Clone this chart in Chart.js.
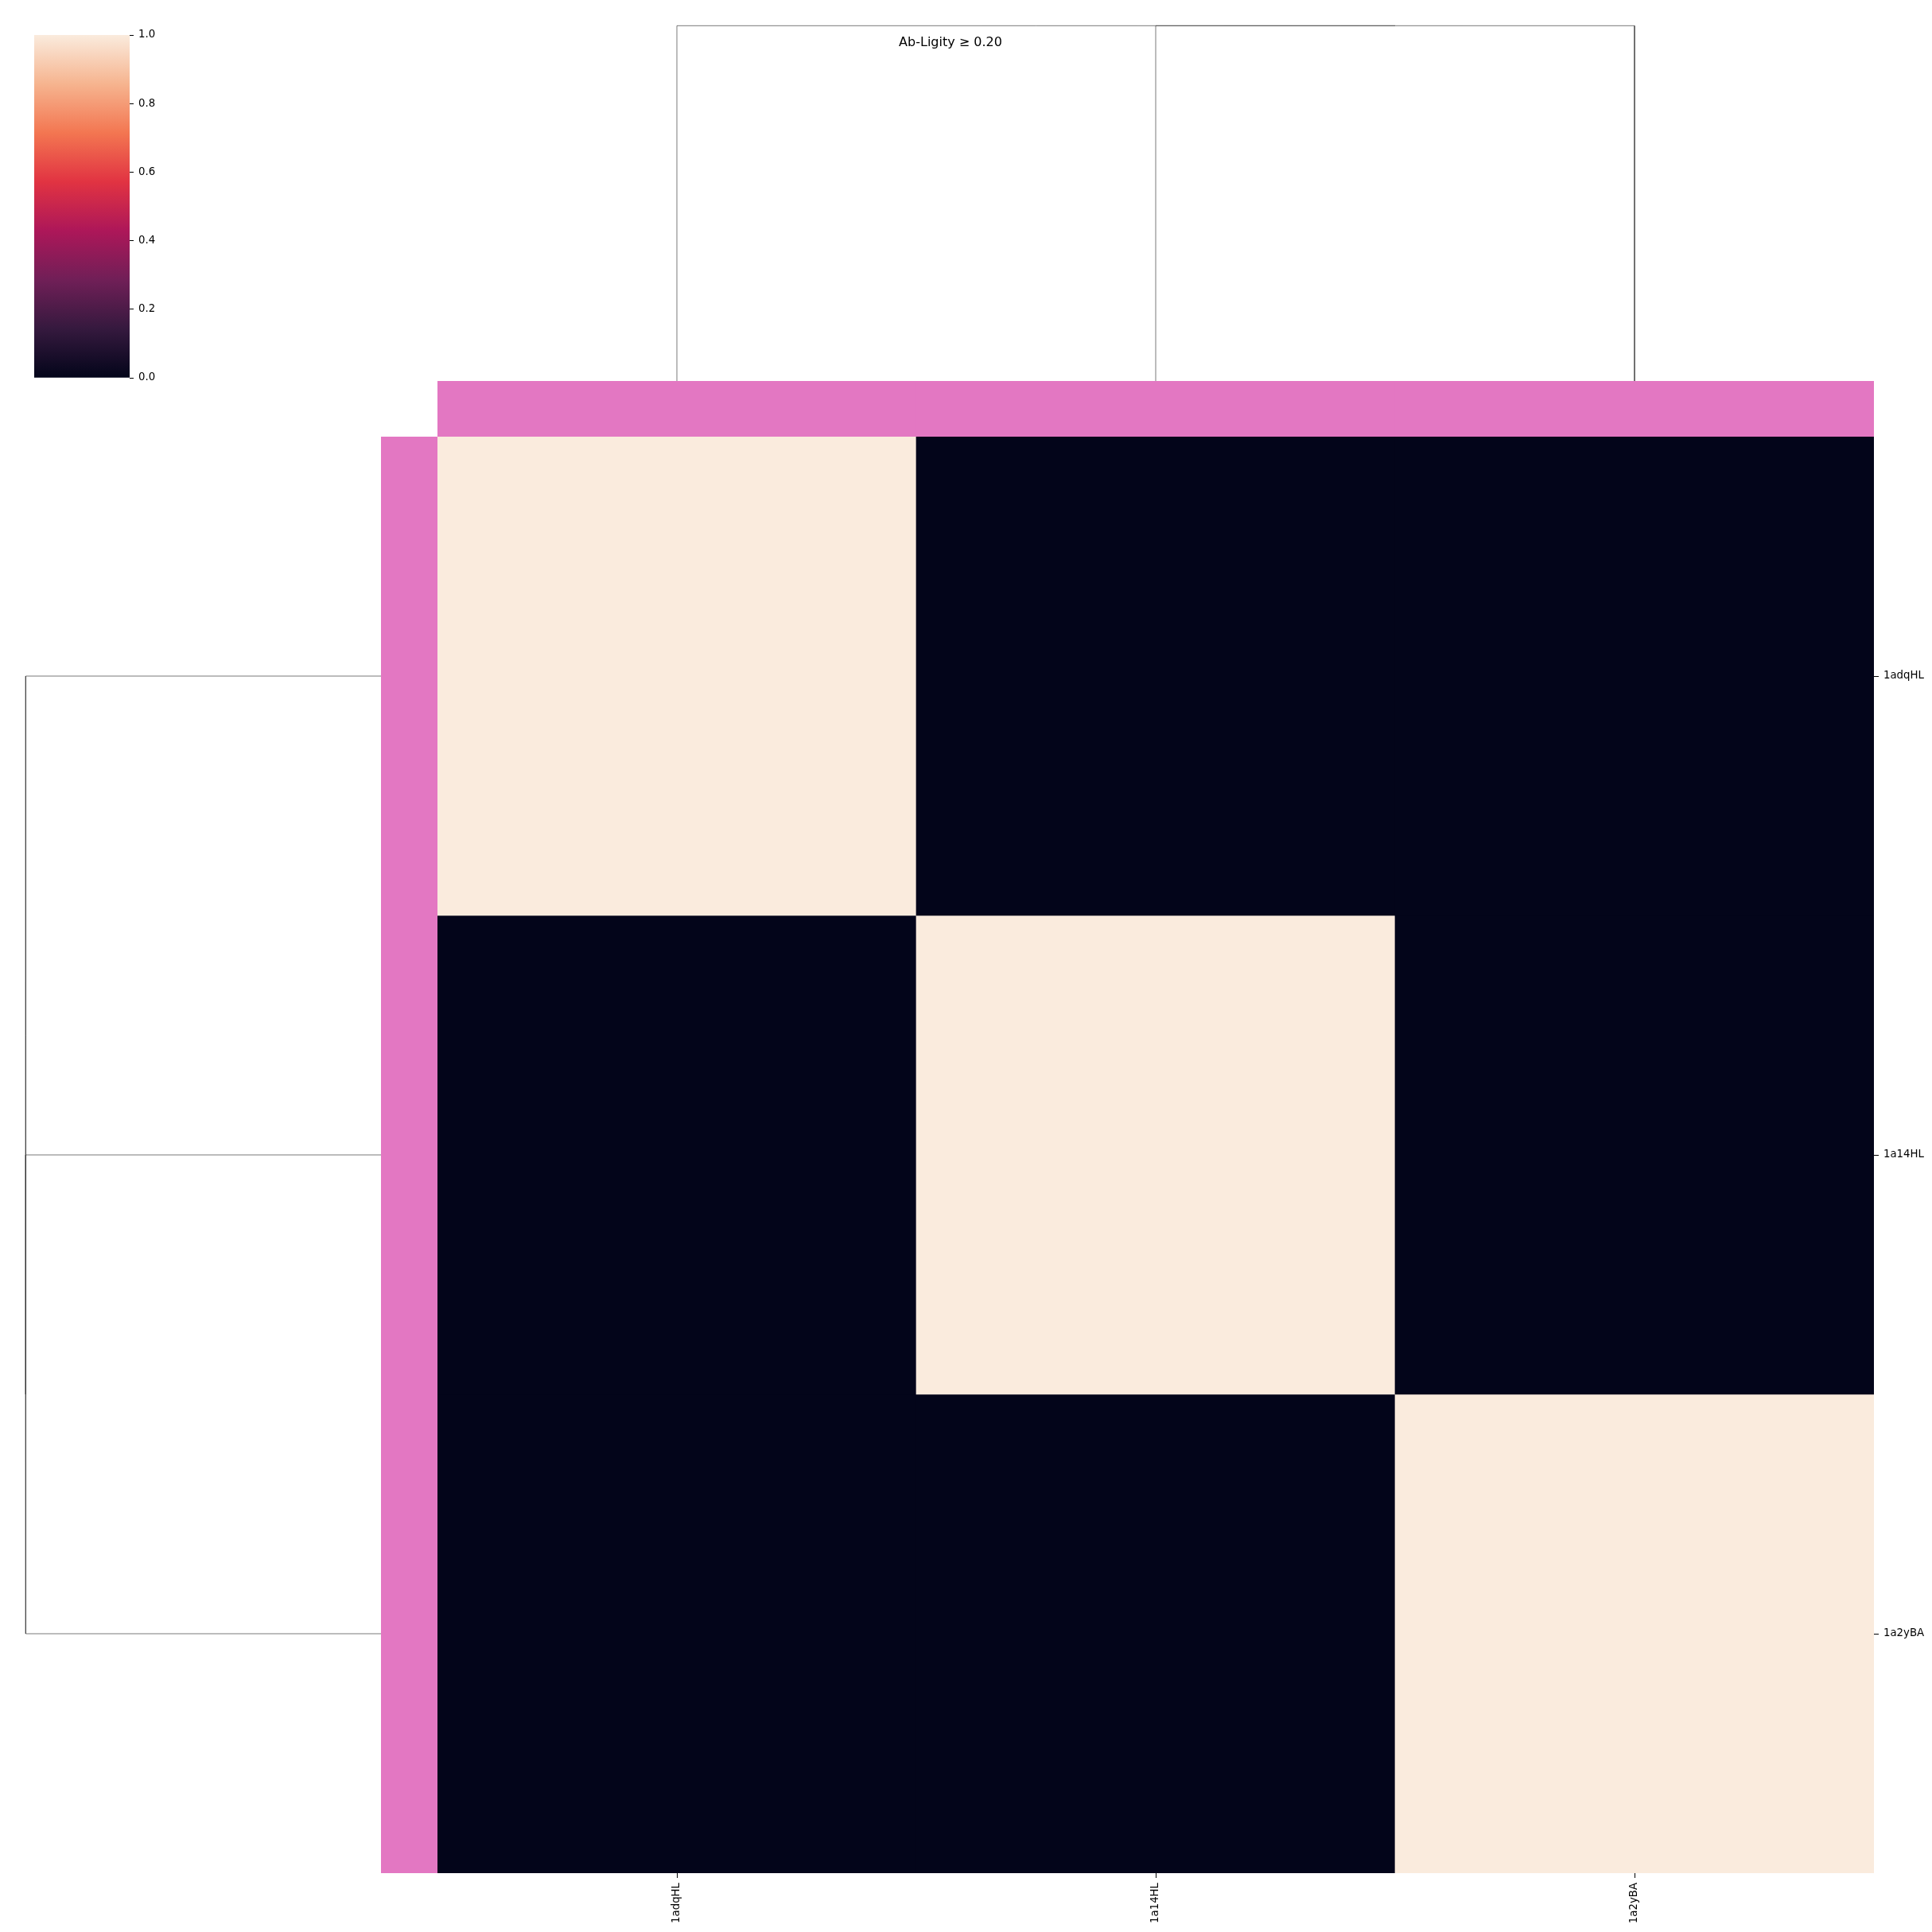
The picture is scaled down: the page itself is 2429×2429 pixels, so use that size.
<!DOCTYPE html>
<html>
<head>
<meta charset="utf-8">
<script src="https://cdn.jsdelivr.net/npm/chart.js@4.4.1/dist/chart.umd.min.js"></script>
<style>
  body { margin: 0; background: #fff; width: 2429px; height: 2429px; position: relative; overflow: hidden; font-family: "DejaVu Sans", sans-serif; }
  canvas { position: absolute; }
  #title { position: absolute; left: 1195px; top: 45px; transform: translateX(-50%); font-size: 16px; line-height: 16px; white-space: nowrap; color: #000; }
</style>
</head>
<body>
<canvas id="cbar" width="180" height="451" style="left:43px; top:34px"></canvas>
<canvas id="colDendro" width="1806" height="469" style="left:550px; top:10px"></canvas>
<canvas id="rowDendro" width="469" height="1806" style="left:10px; top:549px"></canvas>
<canvas id="colColors" width="1806" height="70" style="left:550px; top:479px"></canvas>
<canvas id="rowColors" width="71" height="1806" style="left:479px; top:549px"></canvas>
<canvas id="heatmap" width="1879" height="1879" style="left:550px; top:549px"></canvas>
<div id="title">Ab-Ligity ≥ 0.20</div>
<script>
// Clustermap data
const colNames = ['1adqHL', '1a14HL', '1a2yBA'];
const rowNames = ['1adqHL', '1a14HL', '1a2yBA'];
const values = [
    [1, 0, 0],
    [0, 1, 0],
    [0, 0, 1]
];
const rowColors = ['#e377c2', '#e377c2', '#e377c2'];
const colColors = ['#e377c2', '#e377c2', '#e377c2'];

// dendrogram links, scipy style (leaves at 5, 15, 25)
const colIcoord = [[15, 15, 25, 25], [5, 5, 20, 20]];
const colDcoord = [[0, 1.414, 1.414, 0], [0, 1.414, 1.414, 1.414]];
const rowIcoord = [[15, 15, 25, 25], [5, 5, 20, 20]];
const rowDcoord = [[0, 1.414, 1.414, 0], [0, 1.414, 1.414, 1.414]];

const cbarTicks = [0, 0.2, 0.4, 0.6, 0.8, 1.0];

// rocket colormap stops
const rocketPos = [0, 1 / 7, 2 / 7, 3 / 7, 4 / 7, 5 / 7, 6 / 7, 1];
const rocketHex = ['#03051a', '#35193e', '#701f57', '#ad1759', '#e13342', '#f37651', '#f6b48f', '#faebdd'];

const FONT = 'DejaVu Sans';
const treeColor = 'rgba(51, 51, 51, 0.65)';

Chart.defaults.font.family = FONT;
Chart.defaults.animation = false;
Chart.defaults.responsive = false;
Chart.defaults.plugins.legend.display = false;
Chart.defaults.plugins.tooltip.enabled = false;

function hexToRgb(h) {
    const n = parseInt(h.slice(1), 16);
    return [(n >> 16) & 255, (n >> 8) & 255, n & 255];
}

function rocket(v) {
    for (let i = 1; i < rocketPos.length; i++) {
        if (v <= rocketPos[i]) {
            const t = (v - rocketPos[i - 1]) / (rocketPos[i] - rocketPos[i - 1]);
            const a = hexToRgb(rocketHex[i - 1]);
            const b = hexToRgb(rocketHex[i]);
            return 'rgb(' + a.map((c, k) => Math.round(c + (b[k] - c) * t)).join(',') + ')';
        }
    }
    return rocketHex[rocketHex.length - 1];
}

// stop the axes from reserving room for half-labels at the ends
function noEndPadding(scale) {
    scale.paddingTop = 0;
    scale.paddingBottom = 0;
    scale.paddingLeft = 0;
    scale.paddingRight = 0;
}

const tickGrid = {
    display: true,
    drawOnChartArea: false,
    offset: false,
    tickLength: 6,
    tickWidth: 1,
    color: '#000'
};
const tickFont = { family: FONT, size: 13.3 };

// Heatmap: one floating-bar dataset per row
const heatDatasets = rowNames.map((name, r) => ({
    label: name,
    data: colNames.map(() => [r, r + 1]),
    backgroundColor: values[r].map(rocket),
    borderWidth: 0,
    grouped: false,
    barPercentage: 1,
    categoryPercentage: 1
}));

new Chart(document.getElementById('heatmap'), {
    type: 'bar',
    data: { labels: colNames, datasets: heatDatasets },
    options: {
        layout: { padding: 0 },
        scales: {
            x: {
                position: 'bottom',
                offset: true,
                grid: tickGrid,
                border: { display: false },
                ticks: { font: tickFont, color: '#000', minRotation: 90, maxRotation: 90, padding: 6, autoSkip: false },
                afterFit: function(scale) { scale.height = 73; noEndPadding(scale); }
            },
            y: { type: 'linear', display: false, min: 0, max: 3, reverse: true },
            yLabels: {
                type: 'category',
                labels: rowNames,
                position: 'right',
                offset: true,
                grid: tickGrid,
                border: { display: false },
                ticks: { font: tickFont, color: '#000', padding: 6, autoSkip: false },
                afterFit: function(scale) { scale.width = 73; noEndPadding(scale); }
            }
        }
    }
});

// Column / row colour strips
new Chart(document.getElementById('colColors'), {
    type: 'bar',
    data: {
        labels: colNames,
        datasets: [{ data: colNames.map(() => 1), backgroundColor: colColors, borderWidth: 0, barPercentage: 1, categoryPercentage: 1 }]
    },
    options: {
        scales: {
            x: { display: false },
            y: { display: false, min: 0, max: 1 }
        }
    }
});

new Chart(document.getElementById('rowColors'), {
    type: 'bar',
    data: {
        labels: rowNames,
        datasets: [{ data: rowNames.map(() => 1), backgroundColor: rowColors, borderWidth: 0, barPercentage: 1, categoryPercentage: 1 }]
    },
    options: {
        indexAxis: 'y',
        scales: {
            x: { display: false, min: 0, max: 1 },
            y: { display: false }
        }
    }
});

// Dendrograms
function dendroDatasets(icoord, dcoord, vertical) {
    return icoord.map((xs, i) => ({
        data: xs.map((x, k) => vertical ? { x: dcoord[i][k], y: x } : { x: x, y: dcoord[i][k] }),
        showLine: true,
        pointRadius: 0,
        borderColor: treeColor,
        borderWidth: 1,
        fill: false
    }));
}

const colMax = Math.max(...colDcoord.flat()) * 1.05;
const rowMax = Math.max(...rowDcoord.flat()) * 1.05;

new Chart(document.getElementById('colDendro'), {
    type: 'scatter',
    data: { datasets: dendroDatasets(colIcoord, colDcoord, false) },
    options: {
        scales: {
            x: { display: false, min: 0, max: colNames.length * 10 },
            y: { display: false, min: 0, max: colMax }
        }
    }
});

new Chart(document.getElementById('rowDendro'), {
    type: 'scatter',
    data: { datasets: dendroDatasets(rowIcoord, rowDcoord, true) },
    options: {
        scales: {
            x: { display: false, min: 0, max: rowMax, reverse: true },
            y: { display: false, min: 0, max: rowNames.length * 10, reverse: true }
        }
    }
});

// Colour bar
new Chart(document.getElementById('cbar'), {
    type: 'bar',
    data: {
        labels: [''],
        datasets: [{
            data: [[0, 1]],
            backgroundColor: function(context) {
                const area = context.chart.chartArea;
                if (!area) return rocketHex[0];
                const g = context.chart.ctx.createLinearGradient(0, area.bottom, 0, area.top);
                rocketPos.forEach((p, i) => g.addColorStop(p, rocketHex[i]));
                return g;
            },
            borderWidth: 0,
            barPercentage: 1,
            categoryPercentage: 1
        }]
    },
    options: {
        layout: { padding: { top: 10, bottom: 10, left: 0, right: 0 } },
        scales: {
            x: { display: false },
            y: {
                position: 'right',
                min: 0,
                max: 1,
                grid: { display: true, drawOnChartArea: false, tickLength: 5, tickWidth: 1, color: '#000' },
                border: { display: false },
                afterBuildTicks: function(scale) { scale.ticks = cbarTicks.map(v => ({ value: v })); },
                ticks: { font: tickFont, color: '#000', padding: 6, callback: v => v.toFixed(1) },
                afterFit: function(scale) { scale.width = 60; noEndPadding(scale); }
            }
        }
    }
});
</script>
</body>
</html>
